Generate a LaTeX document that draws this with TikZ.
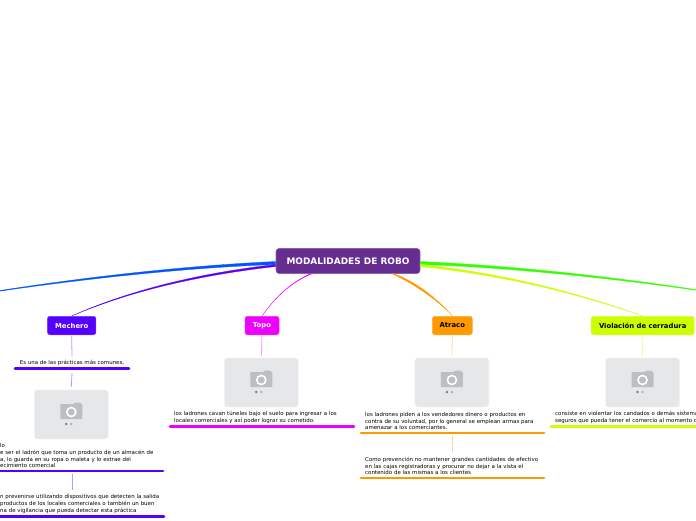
\documentclass[tikz,border=0pt]{standalone}
\usepackage{fontspec}
\setmainfont{DejaVu Sans}
\usetikzlibrary{positioning}
\definecolor{rootcol}{HTML}{662D91}
\definecolor{mechcol}{HTML}{5500FF}
\definecolor{topocol}{HTML}{EE00FF}
\definecolor{atracol}{HTML}{FF9900}
\definecolor{violcol}{HTML}{CCFF00}
\definecolor{bluecol}{HTML}{0055FF}
\definecolor{greencol}{HTML}{33FF00}
\definecolor{photocol}{HTML}{E6E7E9}
\definecolor{iconcol}{HTML}{BDBEC0}
\begin{document}
\begin{tikzpicture}[
  x=1pt, y=-1pt,
  root/.style={rectangle, draw=rootcol!75!white, fill=rootcol, text=white, rounded corners=3pt, line width=0.6pt, minimum width=144pt, minimum height=25pt, inner sep=0pt, font=\bfseries\fontsize{8.95}{10}\selectfont},
  topic/.style={rectangle, fill=#1, draw=#1!80!white, rounded corners=2.5pt, line width=0.5pt, minimum height=18.5pt, inner sep=0pt, font=\bfseries\fontsize{6.85}{8}\selectfont},
  photo/.style={rectangle, fill=photocol, draw=photocol!50!white, rounded corners=3pt, line width=0.4pt, minimum width=74pt, minimum height=49pt, inner sep=0pt},
  note/.style={rectangle, inner xsep=0pt, inner ysep=3pt, align=left, text=black, font=\fontsize{5.45}{6.6}\selectfont},
  branch/.style={draw=#1, fill=#1, line width=0.3pt},
  stem/.style={draw=#1!40!white, line width=0.8pt},
  bar/.style={draw=#1, line width=2.8pt, line cap=round},
  caminfo/.pic={
    \fill[iconcol, rounded corners=0.6pt] (-11,-10.5) rectangle (11,4.5);
    \fill[iconcol] (2,-10.5) -- (3.5,-12) -- (9,-12) -- (10,-10.5) -- cycle;
    \fill[white] (0,-2.5) circle (5.4);
    \fill[iconcol] (0,-2.5) circle (3.5);
    \fill[black!50] (-5,9.5) circle (1.4);
    \fill[black!30] (0,9.5) circle (1.4);
    \fill[black!10] (5,9.5) circle (1.4);
  }
]
\useasboundingbox (0,0) rectangle (696,520);
\clip (0,0) rectangle (696,520);

% Root and topics
\node[root] (root) at (348,261) {MODALIDADES DE ROBO};
\node[topic=mechcol, minimum width=48.5pt, text=white] (mechero) at (71.7,325.5) {Mechero};
\node[topic=topocol, minimum width=34pt, text=white] (topo) at (262,325.5) {Topo};
\node[topic=atracol, minimum width=40pt, text=black] (atraco) at (452.3,325.5) {Atraco};
\node[topic=violcol, minimum width=103pt, text=black] (violacion) at (642.7,325.5) {Violación de cerradura};
\coordinate (leftend) at (-40,297);
\coordinate (rightend) at (736,296);

% Photos
\node[photo] (mphoto) at (71.3,414.5) {};
\node[photo] (tphoto) at (261.3,382.5) {};
\node[photo, right=116.2pt of tphoto] (aphoto) {};
\node[photo, right=116.2pt of aphoto] (vphoto) {};
\pic at (mphoto) {caminfo};
\pic at (tphoto) {caminfo};
\pic at (aphoto) {caminfo};
\pic at (vphoto) {caminfo};

% Notes
\node[note, anchor=south, minimum width=116pt, align=center] (mnote1) at (72,368.5) {Es una de las prácticas más comunes,};
\node[note, anchor=south west, text width=164pt] (mnote2) at (0,471) {lo\\e ser el ladrón que toma un producto de un almacén de\\a, lo guarda en su ropa o maleta y lo extrae del\\ecimiento comercial};
\node[note, anchor=south west, text width=165pt] (mnote3) at (0,516.5) {n prevenirse utilizando dispositivos que detecten la salida\\productos de los locales comerciales o también un buen\\na de vigilancia que pueda detectar esta práctica};
\node[note, anchor=south west, text width=181pt] (tnote) at (174,426.5) {los ladrones cavan túneles bajo el suelo para ingresar a los\\locales comerciales y así poder lograr su cometido.};
\node[note, anchor=south west, text width=180pt] (anote1) at (365,433) {los ladrones piden a los vendedores dinero o productos en\\contra de su voluntad, por lo general se emplean armas para\\amenazar a los comerciantes.};
\node[note, anchor=south west, text width=180pt] (anote2) at (365,478) {Como prevención no mantener grandes cantidades de efectivo\\en las cajas registradoras y procurar no dejar a la vista el\\contenido de las mismas a los clientes};
\node[note, anchor=south west, text width=160pt] (vnote) at (555,426.5) {consiste en violentar los candados o demás sistemas\\seguros que pueda tener el comercio al momento d};

% Connections - Root
\draw[branch=bluecol] ([yshift=-0.5pt]root.west) .. controls (200,265) and (90,275) .. (leftend) .. controls (90,277) and (200,267) .. ([yshift=-3.5pt]root.west) -- cycle;
\draw[branch=greencol] ([yshift=-0.5pt]root.east) .. controls (500,265) and (610,275) .. (rightend) .. controls (610,277) and (500,267) .. ([yshift=-3.5pt]root.east) -- cycle;
\draw[branch=mechcol] ([yshift=-3.5pt]root.west) .. controls (200,273) and (130,290) .. (mechero.north) .. controls (130,291) and (200,275) .. ([yshift=-5.5pt]root.west) -- cycle;
\draw[branch=violcol] ([yshift=-3.5pt]root.east) .. controls (500,273) and (570,290) .. (violacion.north) .. controls (570,291) and (500,275) .. ([yshift=-5.5pt]root.east) -- cycle;
\draw[branch=topocol] ([xshift=-36pt]root.south) .. controls (288,283) and (272,302) .. (topo.north) .. controls (272,302) and (286,285) .. ([xshift=-38pt]root.south) -- cycle;
\draw[branch=atracol] ([xshift=46pt]root.south) .. controls (420,283) and (442,304) .. (atraco.north) .. controls (442,304) and (417,285) .. ([xshift=44pt]root.south) -- cycle;

% Connections - Stems
\draw[stem=mechcol] ([yshift=-1pt]mechero.south) -- (mnote1.north);
\draw[stem=mechcol] (72,373) -- ([yshift=3pt]mphoto.north);
\draw[stem=mechcol] (72,474) -- (72,490);
\draw[stem=topocol] ([yshift=-1pt]topo.south) -- ([yshift=2pt]tphoto.north);
\draw[stem=atracol] ([yshift=-1pt]atraco.south) -- ([yshift=2pt]aphoto.north);
\draw[stem=atracol] (452,436) -- (452,451.5);
\draw[stem=violcol] ([yshift=-1pt]violacion.south) -- ([yshift=2pt]vphoto.north);

% Bars
\draw[bar=mechcol] (15,368.5) -- (129,368.5);
\draw[bar=mechcol] (-5,471) -- (163,471);
\draw[bar=mechcol] (-5,516.5) -- (164,516.5);
\draw[bar=topocol] (170,426.5) -- (354,426.5);
\draw[bar=atracol] (361,433) -- (544,433);
\draw[bar=atracol] (361,478) -- (544,478);
\draw[bar=violcol] (551,426.5) -- (700,426.5);
\end{tikzpicture}
\end{document}
